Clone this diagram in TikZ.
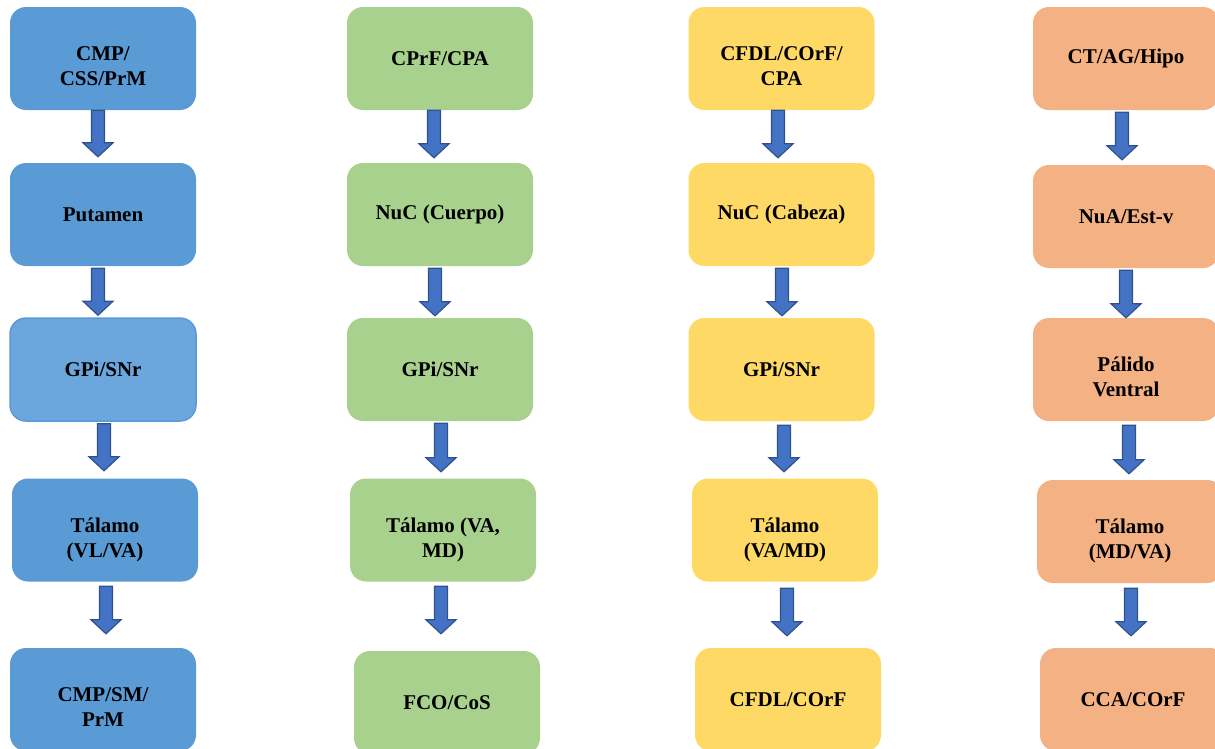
\documentclass[tikz,border=0pt]{standalone}
\usepackage{fontspec}
\setmainfont{Liberation Serif}
\usetikzlibrary{calc}
\definecolor{azul}{RGB}{91,155,213}
\definecolor{azulclaro}{RGB}{107,166,220}
\definecolor{verde}{RGB}{169,209,142}
\definecolor{amarillo}{RGB}{255,217,102}
\definecolor{naranja}{RGB}{244,177,131}
\definecolor{flechaazul}{RGB}{68,114,196}
\definecolor{flechaborde}{RGB}{47,82,143}

\begin{document}
\begin{tikzpicture}[x=1pt,y=-1pt,
  caja/.style={rounded corners=16pt,minimum width=186pt,minimum height=103pt,
    inner sep=0pt,align=center,font=\fontsize{21}{25}\selectfont\bfseries},
  doble/.style={text height=56pt,text depth=2pt},
  flecha/.style={draw=flechaborde,fill=flechaazul,line width=1.2pt,
    to path={let \p1=(\tikztostart), \p2=(\tikztotarget) in
      (\x1-6.5pt,\y1) -- (\x1-6.5pt,\y2+14pt) -- (\x1-15pt,\y2+14pt) -- (\x1,\y2)
      -- (\x1+15pt,\y2+14pt) -- (\x1+6.5pt,\y2+14pt) -- (\x1+6.5pt,\y1) -- cycle}}]
\useasboundingbox (0,0) rectangle (1215,748);
\clip (0,0) rectangle (1215,748);

\node[caja,doble,fill=azul] (a1) at (103,58.5) {CMP/\\CSS/PrM};
\node[caja,fill=azul] (a2) at (103,214.5) {Putamen};
\node[caja,fill=azulclaro,draw=azul,line width=1.5pt] (a3) at (103,369.5) {GPi/SNr};
\node[caja,doble,fill=azul] (a4) at (105,530) {Tálamo\\(VL/VA)};
\node[caja,doble,fill=azul] (a5) at (103,699.5) {CMP/SM/\\PrM};

\node[caja,fill=verde] (b1) at (440,58.5) {CPrF/CPA};
\node[caja,fill=verde] (b2) at (440,214.5) {NuC (Cuerpo)};
\node[caja,fill=verde] (b3) at (440,369.5) {GPi/SNr};
\node[caja,doble,fill=verde] (b4) at (443,530) {Tálamo (VA,\\MD)};
\node[caja,fill=verde] (b5) at (447,702.5) {FCO/CoS};

\node[caja,doble,fill=amarillo] (c1) at (781.5,58.5) {CFDL/COrF/\\CPA};
\node[caja,fill=amarillo] (c2) at (781.5,214.5) {NuC (Cabeza)};
\node[caja,fill=amarillo] (c3) at (781.5,369.5) {GPi/SNr};
\node[caja,doble,fill=amarillo] (c4) at (785,530) {Tálamo\\(VA/MD)};
\node[caja,fill=amarillo] (c5) at (788,699.5) {CFDL/COrF};

\node[caja,fill=naranja] (d1) at (1126,58.5) {CT/AG/Hipo};
\node[caja,fill=naranja] (d2) at (1126,216.5) {NuA/Est-v};
\node[caja,doble,fill=naranja] (d3) at (1126,369.5) {Pálido\\Ventral};
\node[caja,doble,fill=naranja] (d4) at (1130,531.5) {Tálamo\\(MD/VA)};
\node[caja,fill=naranja] (d5) at (1133,699.5) {CCA/COrF};

\draw[flecha] ([xshift=-5pt]a1.south) to ([yshift=6pt]a2.north);
\draw[flecha] ([xshift=-5pt,yshift=-2pt]a2.south) to ([yshift=2pt]a3.north);
\draw[flecha] ([xshift=1pt,yshift=-2pt]a3.south) to ([yshift=7.5pt]a4.north);
\draw[flecha] ([xshift=1pt,yshift=-4.5pt]a4.south) to ([yshift=14pt]a5.north);

\draw[flecha] ([xshift=-6pt]b1.south) to ([yshift=5pt]b2.north);
\draw[flecha] ([xshift=-5pt,yshift=-2pt]b2.south) to ([yshift=2pt]b3.north);
\draw[flecha] ([xshift=1pt,yshift=-2pt]b3.south) to ([yshift=6.5pt]b4.north);
\draw[flecha] ([xshift=-2pt,yshift=-4.5pt]b4.south) to ([yshift=17pt]b5.north);

\draw[flecha] ([xshift=-3.5pt]c1.south) to ([yshift=5pt]c2.north);
\draw[flecha] ([xshift=0.5pt,yshift=-2pt]c2.south) to ([yshift=2pt]c3.north);
\draw[flecha] ([xshift=2.5pt,yshift=-4pt]c3.south) to ([yshift=6.5pt]c4.north);
\draw[flecha] ([xshift=2pt,yshift=-6.5pt]c4.south) to ([yshift=12pt]c5.north);

\draw[flecha] ([xshift=-4pt,yshift=-2pt]d1.south) to ([yshift=5pt]d2.north);
\draw[flecha] ([yshift=-2pt]d2.south) to (d3.north);
\draw[flecha] ([xshift=3pt,yshift=-4pt]d3.south) to ([yshift=6pt]d4.north);
\draw[flecha] ([xshift=1pt,yshift=-5pt]d4.south) to ([yshift=12pt]d5.north);
\end{tikzpicture}
\end{document}
